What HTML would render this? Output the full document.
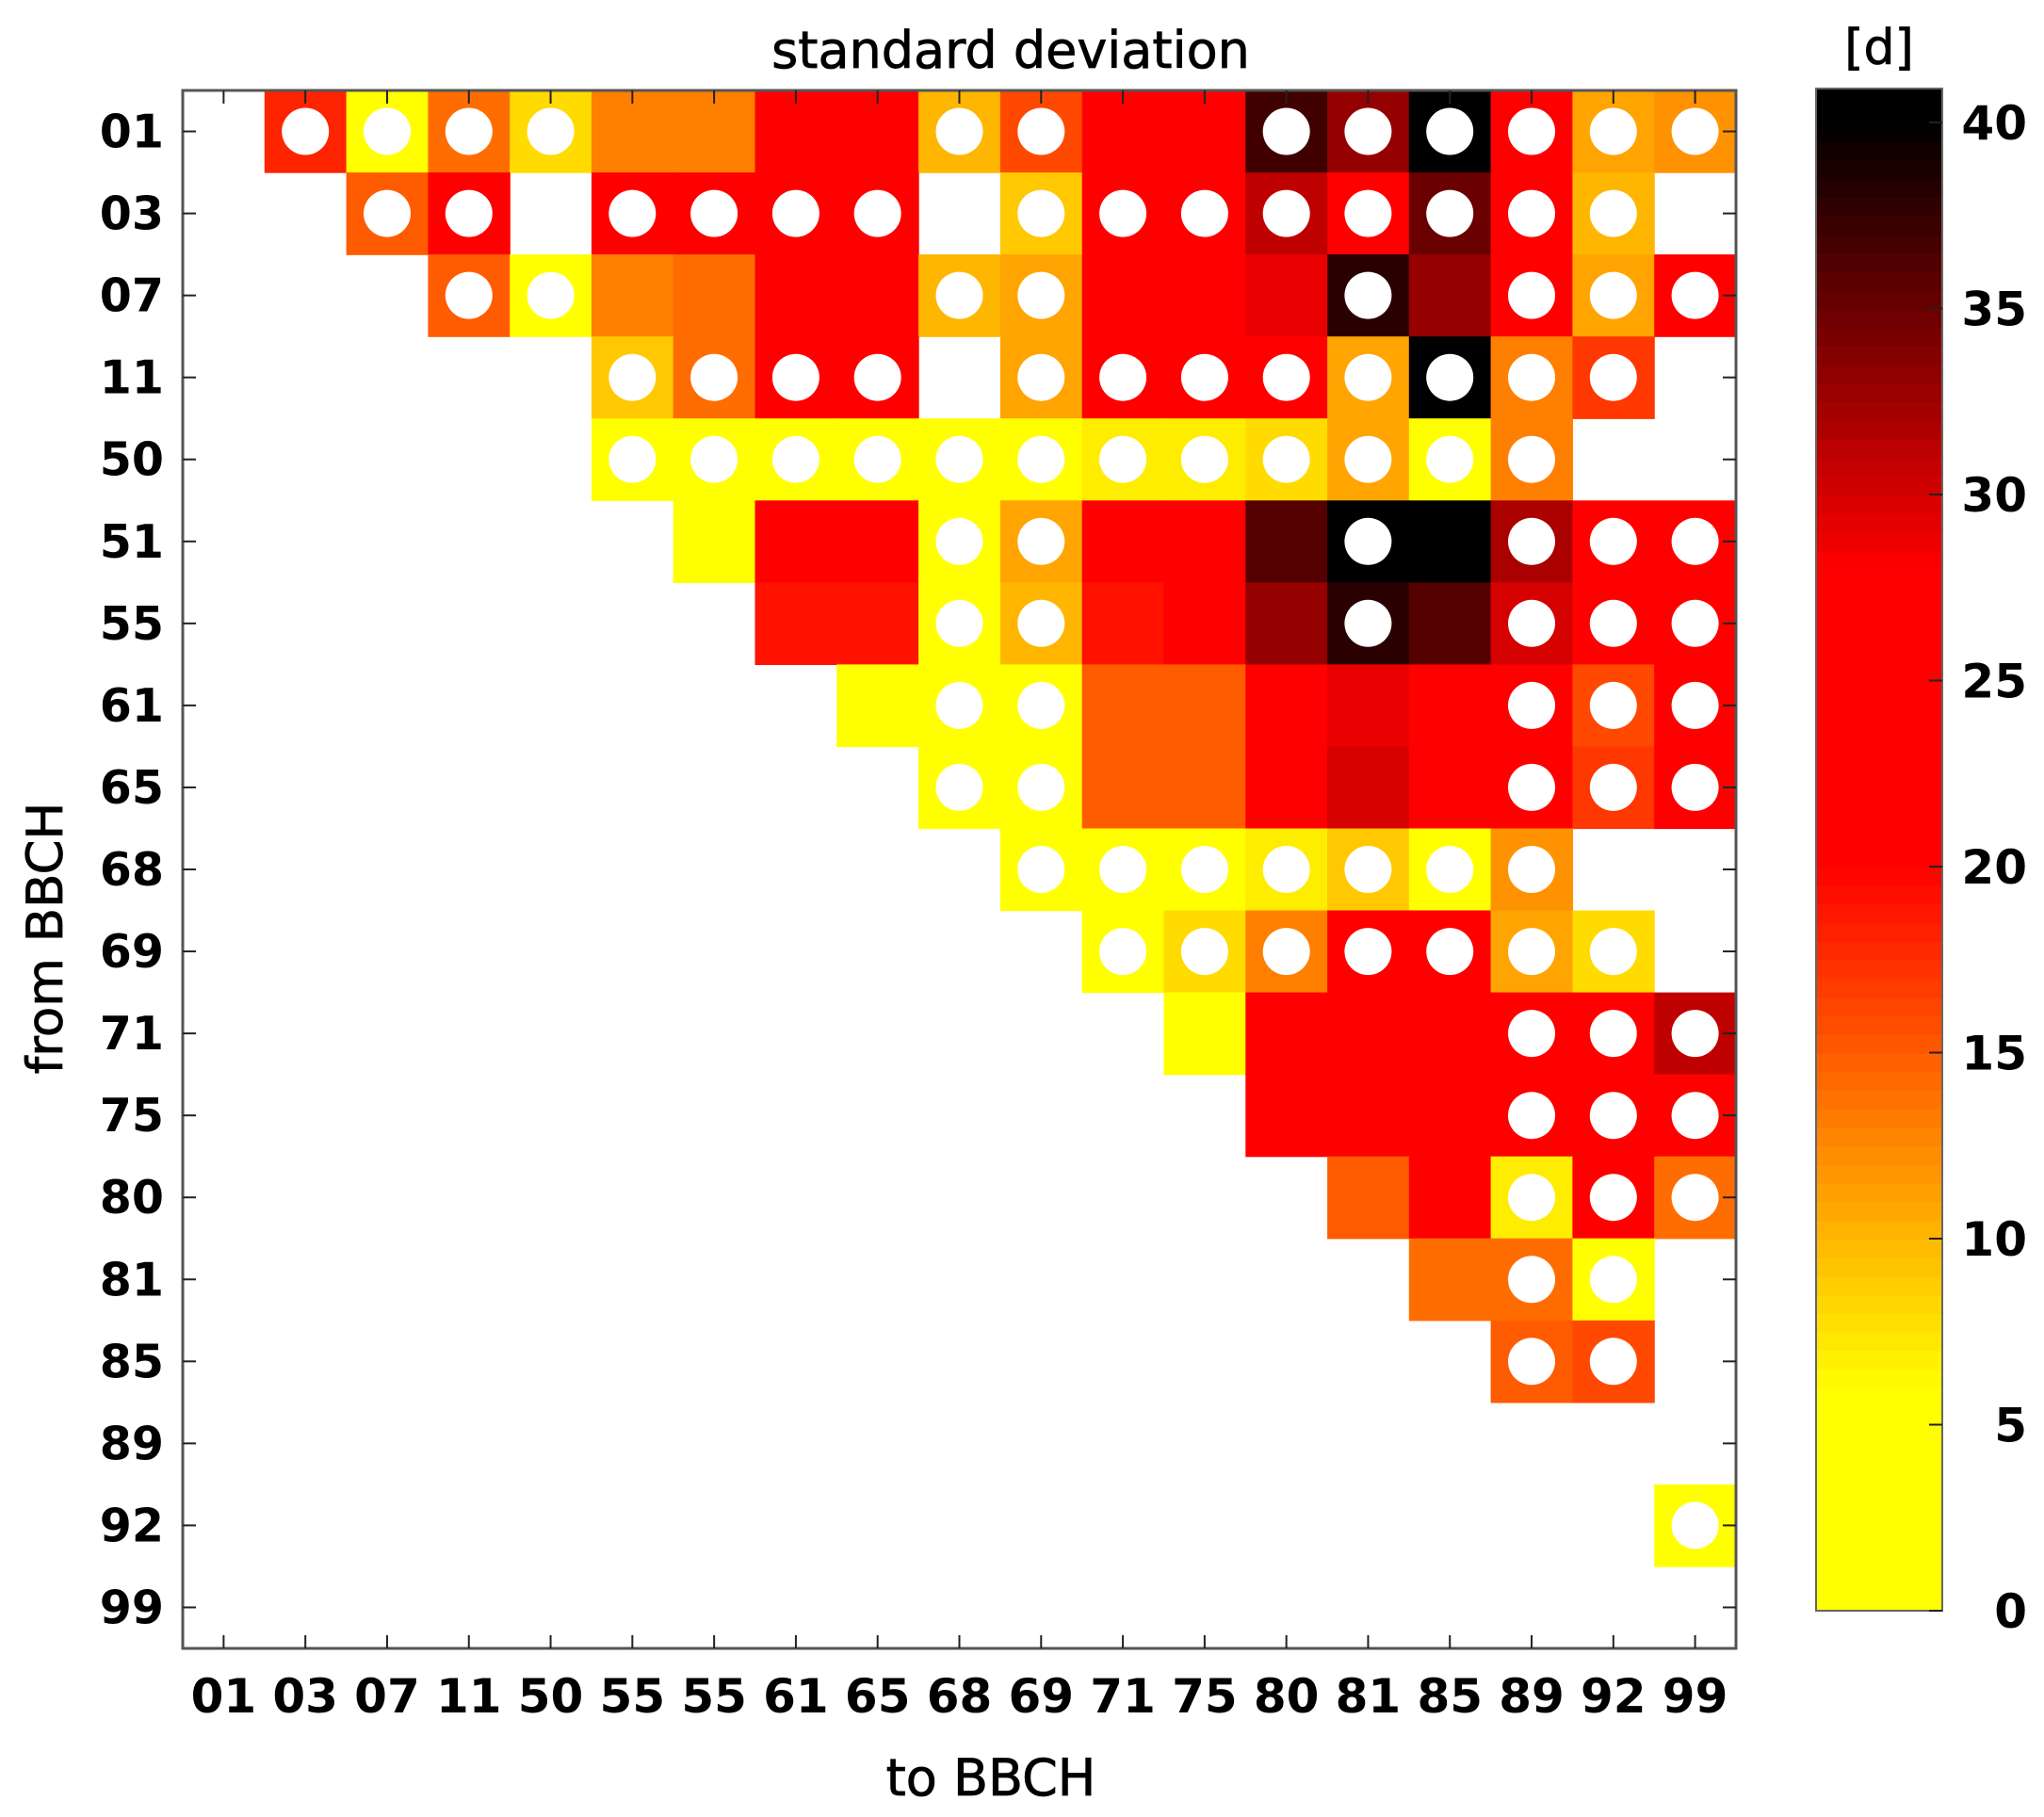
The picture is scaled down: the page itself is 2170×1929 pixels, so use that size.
<!DOCTYPE html>
<html><head><meta charset="utf-8"><style>
html,body{margin:0;padding:0;background:#fff;}
svg{display:block;}
text{font-family:"DejaVu Sans","Liberation Sans",sans-serif;}
</style></head><body>
<svg id="chart" width="2170" height="1929" viewBox="0 0 2170 1929" xmlns="http://www.w3.org/2000/svg">
<text x="1073" y="72" font-size="54" text-anchor="middle" stroke="#000" stroke-width="0.8">standard deviation</text>
<text x="1995" y="68" font-size="52" text-anchor="middle" stroke="#000" stroke-width="0.8">[d]</text>
<text transform="translate(66,996) rotate(-90)" font-size="53" text-anchor="middle" stroke="#000" stroke-width="0.8">from BBCH</text>
<text x="1052" y="1906" font-size="54" text-anchor="middle" stroke="#000" stroke-width="0.8">to BBCH</text>
<g id="cells"></g>
<g id="axes"></g>
<g id="cbar"></g>
</svg>
<script>
const categories = ["01","03","07","11","50","55","55","61","65","68","69","71","75","80","81","85","89","92","99"];
const rowLabels = ["01","03","07","11","50","51","55","61","65","68","69","71","75","80","81","85","89","92","99"];
const N = null;
// values [d]; null = no data
const values = [
 [N,18,4,14,8,13,13,22,22,10,16,22,22,37,33,40,22,11,12],
 [N,N,15,20,N,22,22,22,22,N,9,22,22,31,21,35,22,10,N],
 [N,N,N,15,6,13,14,22,22,10,11,22,22,29,38,33,22,11,22],
 [N,N,N,N,N,9,14,22,22,N,11,22,22,22,11,40,13,17,N],
 [N,N,N,N,N,3,3,3,3,3,3,7,7,8,11,4,13,N,N],
 [N,N,N,N,N,N,3,22,22,3,11,22,22,36,40,40,32,22,22],
 [N,N,N,N,N,N,N,19,19,3,10,19,22,33,38,36,30,22,22],
 [N,N,N,N,N,N,N,N,3,3,3,15,15,22,29,27,22,16,22],
 [N,N,N,N,N,N,N,N,N,3,3,15,15,22,30,23,22,17,22],
 [N,N,N,N,N,N,N,N,N,N,3,4,5,7,9,3,12,N,N],
 [N,N,N,N,N,N,N,N,N,N,N,4,8,13,22,22,11,8,N],
 [N,N,N,N,N,N,N,N,N,N,N,N,6,22,22,22,22,22,31],
 [N,N,N,N,N,N,N,N,N,N,N,N,N,22,23,22,22,22,22],
 [N,N,N,N,N,N,N,N,N,N,N,N,N,N,15,22,7,22,14],
 [N,N,N,N,N,N,N,N,N,N,N,N,N,N,N,14,14,5,N],
 [N,N,N,N,N,N,N,N,N,N,N,N,N,N,N,N,15,16,N],
 [N,N,N,N,N,N,N,N,N,N,N,N,N,N,N,N,N,N,N],
 [N,N,N,N,N,N,N,N,N,N,N,N,N,N,N,N,N,N,6],
 [N,N,N,N,N,N,N,N,N,N,N,N,N,N,N,N,N,N,N]
];
// 1 = significant marker (white circle)
const markers = [
 [0,1,1,1,1,0,0,0,0,1,1,0,0,1,1,1,1,1,1],
 [0,0,1,1,0,1,1,1,1,0,1,1,1,1,1,1,1,1,0],
 [0,0,0,1,1,0,0,0,0,1,1,0,0,0,1,0,1,1,1],
 [0,0,0,0,0,1,1,1,1,0,1,1,1,1,1,1,1,1,0],
 [0,0,0,0,0,1,1,1,1,1,1,1,1,1,1,1,1,0,0],
 [0,0,0,0,0,0,0,0,0,1,1,0,0,0,1,0,1,1,1],
 [0,0,0,0,0,0,0,0,0,1,1,0,0,0,1,0,1,1,1],
 [0,0,0,0,0,0,0,0,0,1,1,0,0,0,0,0,1,1,1],
 [0,0,0,0,0,0,0,0,0,1,1,0,0,0,0,0,1,1,1],
 [0,0,0,0,0,0,0,0,0,0,1,1,1,1,1,1,1,0,0],
 [0,0,0,0,0,0,0,0,0,0,0,1,1,1,1,1,1,1,0],
 [0,0,0,0,0,0,0,0,0,0,0,0,0,0,0,0,1,1,1],
 [0,0,0,0,0,0,0,0,0,0,0,0,0,0,0,0,1,1,1],
 [0,0,0,0,0,0,0,0,0,0,0,0,0,0,0,0,1,1,1],
 [0,0,0,0,0,0,0,0,0,0,0,0,0,0,0,0,1,1,0],
 [0,0,0,0,0,0,0,0,0,0,0,0,0,0,0,0,1,1,0],
 [0,0,0,0,0,0,0,0,0,0,0,0,0,0,0,0,0,0,0],
 [0,0,0,0,0,0,0,0,0,0,0,0,0,0,0,0,0,0,1],
 [0,0,0,0,0,0,0,0,0,0,0,0,0,0,0,0,0,0,0]
];
const cbTicks = [0,5,10,15,20,25,30,35,40];

const NS="http://www.w3.org/2000/svg";
const L=194,R=1843,T=96,B=1750;
const cw=(R-L)/categories.length, ch=(B-T)/rowLabels.length;
function xCenter(i){return L+cw*(i+0.5);}
function yCenter(j){return T+ch*(j+0.5);}
function color(v){
  let r=255,g=255,b=0;
  if(v<=6){g=255;}
  else if(v<=20){g=Math.round(255*(20-v)/14);}
  else if(v<=28){g=0;}
  else {g=0;r=Math.round(255*Math.max(0,(40-v))/12);}
  return `rgb(${r},${g},${b})`;
}
function mk(tag,attrs,parent){const e=document.createElementNS(NS,tag);for(const k in attrs)e.setAttribute(k,attrs[k]);parent.appendChild(e);return e;}
const cells=document.getElementById('cells');
values.forEach((row,j)=>row.forEach((v,i)=>{
  if(v===null)return;
  const r=mk('rect',{x:(xCenter(i)-cw/2).toFixed(1),y:(yCenter(j)-ch/2).toFixed(1),width:(cw+0.6).toFixed(1),height:(ch+0.6).toFixed(1),fill:color(v)},cells);
  
  
  if(markers[j][i]){
    const c=mk('ellipse',{cx:xCenter(i).toFixed(1),cy:yCenter(j).toFixed(1),rx:25,ry:25,fill:'#fff'},cells);
    
    
  }
}));
const axes=document.getElementById('axes');
const frame=mk('rect',{x:L,y:T,width:R-L,height:B-T,fill:'none',stroke:'#555','stroke-width':3},axes);


categories.forEach((c,i)=>{
  const x=xCenter(i);
  mk('line',{x1:x,y1:T,x2:x,y2:T+14,stroke:'#222','stroke-width':2},axes);
  mk('line',{x1:x,y1:B,x2:x,y2:B-14,stroke:'#222','stroke-width':2},axes);
  const t=mk('text',{x:x,y:1818,'font-size':50,'font-weight':'bold','text-anchor':'middle'},axes);
  t.textContent=c;
  
  
});
rowLabels.forEach((c,j)=>{
  const y=yCenter(j);
  mk('line',{x1:L,y1:y,x2:L+14,y2:y,stroke:'#222','stroke-width':2},axes);
  mk('line',{x1:R,y1:y,x2:R-14,y2:y,stroke:'#222','stroke-width':2},axes);
  const t=mk('text',{x:174,y:y+17,'font-size':49,'font-weight':'bold','text-anchor':'end'},axes);
  t.textContent=c;
  
  
});
const cb=document.getElementById('cbar');
const CL=1928,CR=2062,CT=94,CB=1710;
function cy(v){return 1710-39.5*v;}
for(let k=0;k<80;k++){
  const v0=k*0.5;
  const y1=Math.max(CT,cy(v0+0.5)), y0=cy(v0);
  mk('rect',{x:CL,y:y1.toFixed(1),width:CR-CL,height:(y0-y1+0.8).toFixed(1),fill:color(v0+0.25)},cb);
}
mk('rect',{x:CL,y:CT,width:CR-CL,height:cy(40)-CT+1,fill:'#000'},cb);
const cbf=mk('rect',{x:CL,y:CT,width:CR-CL,height:CB-CT,fill:'none',stroke:'#666','stroke-width':2},cb);


cbTicks.forEach(v=>{
  const y=cy(v);
  mk('line',{x1:CR-14,y1:y,x2:CR,y2:y,stroke:'#222','stroke-width':2},cb);
  const t=mk('text',{x:2152,y:y+18,'font-size':50,'font-weight':'bold','text-anchor':'end'},cb);
  t.textContent=String(v);
  
  
});
</script>
</body></html>
